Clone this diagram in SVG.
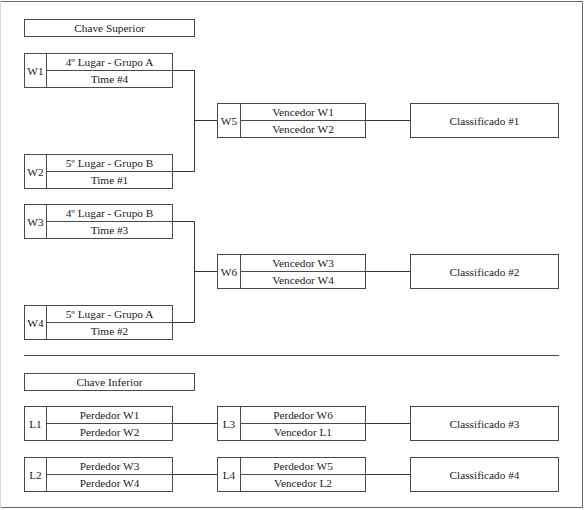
<svg xmlns="http://www.w3.org/2000/svg" width="588" height="510" viewBox="0 0 588 510">
<style>
.b{fill:#fff;stroke:#4a4a4a;stroke-width:1}
.l{fill:none;stroke:#4a4a4a;stroke-width:1}
.c{stroke:#333;stroke-width:1;fill:none}
.t text{font-family:'Liberation Serif','Times New Roman',Tinos,'DejaVu Serif',serif;font-size:11.3px;fill:#222;text-anchor:middle}
</style>
<rect x="0" y="0" width="588" height="510" fill="#fff"/>
<g id="frame">
<line x1="0" y1="1.5" x2="583" y2="1.5" stroke="#6a6a6a"/>
<line x1="582.5" y1="1" x2="582.5" y2="508" stroke="#6a6a6a"/>
<line x1="0" y1="507.5" x2="583" y2="507.5" stroke="#6a6a6a"/>
<line x1="0.5" y1="1" x2="0.5" y2="508" stroke="#d8d8d8"/>
</g>
<g id="connectors">
<path class="c" d="M172.5 70.5H194.5V171.5H172.5M194.5 120.5H217.5M365.5 120.5H410.5"/>
<path class="c" d="M172.5 221.5H194.5V322.5H172.5M194.5 271.5H217.5M365.5 271.5H410.5"/>
<path class="c" d="M172.5 423.5H217.5M365.5 423.5H410.5"/>
<path class="c" d="M172.5 474.5H217.5M365.5 474.5H410.5"/>
<line class="l" x1="24" y1="355.5" x2="559" y2="355.5"/>
</g>
<g class="t" font-family="Liberation Serif, serif" font-size="11.3">
<g id="chave-superior"><rect class="b" x="24.5" y="19.5" width="170" height="17"/><text x="109.5" y="32">Chave Superior</text></g>
<g id="W1"><rect class="b" x="24.5" y="53.5" width="148" height="34"/><path class="l" d="M46.5 53.5V87.5M46.5 70.5H172.5"/><text x="35.5" y="74.5">W1</text><text x="109.5" y="66">4º Lugar - Grupo A</text><text x="109.5" y="83">Time #4</text></g>
<g id="W2"><rect class="b" x="24.5" y="154.5" width="148" height="34"/><path class="l" d="M46.5 154.5V188.5M46.5 171.5H172.5"/><text x="35.5" y="175.5">W2</text><text x="109.5" y="167">5º Lugar - Grupo B</text><text x="109.5" y="184">Time #1</text></g>
<g id="W3"><rect class="b" x="24.5" y="204.5" width="148" height="34"/><path class="l" d="M46.5 204.5V238.5M46.5 221.5H172.5"/><text x="35.5" y="225.5">W3</text><text x="109.5" y="217">4º Lugar - Grupo B</text><text x="109.5" y="234">Time #3</text></g>
<g id="W4"><rect class="b" x="24.5" y="305.5" width="148" height="34"/><path class="l" d="M46.5 305.5V339.5M46.5 322.5H172.5"/><text x="35.5" y="326.5">W4</text><text x="109.5" y="318">5º Lugar - Grupo A</text><text x="109.5" y="335">Time #2</text></g>
<g id="W5"><rect class="b" x="217.5" y="103.5" width="148" height="34"/><path class="l" d="M240.5 103.5V137.5M240.5 120.5H365.5"/><text x="229" y="124.5">W5</text><text x="303" y="116">Vencedor W1</text><text x="303" y="133">Vencedor W2</text></g>
<g id="W6"><rect class="b" x="217.5" y="254.5" width="148" height="34"/><path class="l" d="M240.5 254.5V288.5M240.5 271.5H365.5"/><text x="229" y="275.5">W6</text><text x="303" y="267">Vencedor W3</text><text x="303" y="284">Vencedor W4</text></g>
<g id="classificado-1"><rect class="b" x="410.5" y="103.5" width="148" height="34"/><text x="484.5" y="124.5">Classificado #1</text></g>
<g id="classificado-2"><rect class="b" x="410.5" y="254.5" width="148" height="34"/><text x="484.5" y="275.5">Classificado #2</text></g>
<g id="chave-inferior"><rect class="b" x="24.5" y="373.5" width="170" height="17"/><text x="109.5" y="386">Chave Inferior</text></g>
<g id="L1"><rect class="b" x="24.5" y="406.5" width="148" height="34"/><path class="l" d="M46.5 406.5V440.5M46.5 423.5H172.5"/><text x="35.5" y="427.5">L1</text><text x="109.5" y="419">Perdedor W1</text><text x="109.5" y="436">Perdedor W2</text></g>
<g id="L2"><rect class="b" x="24.5" y="457.5" width="148" height="34"/><path class="l" d="M46.5 457.5V491.5M46.5 474.5H172.5"/><text x="35.5" y="478.5">L2</text><text x="109.5" y="470">Perdedor W3</text><text x="109.5" y="487">Perdedor W4</text></g>
<g id="L3"><rect class="b" x="217.5" y="406.5" width="148" height="34"/><path class="l" d="M240.5 406.5V440.5M240.5 423.5H365.5"/><text x="229" y="427.5">L3</text><text x="303" y="419">Perdedor W6</text><text x="303" y="436">Vencedor L1</text></g>
<g id="L4"><rect class="b" x="217.5" y="457.5" width="148" height="34"/><path class="l" d="M240.5 457.5V491.5M240.5 474.5H365.5"/><text x="229" y="478.5">L4</text><text x="303" y="470">Perdedor W5</text><text x="303" y="487">Vencedor L2</text></g>
<g id="classificado-3"><rect class="b" x="410.5" y="406.5" width="148" height="34"/><text x="484.5" y="427.5">Classificado #3</text></g>
<g id="classificado-4"><rect class="b" x="410.5" y="457.5" width="148" height="34"/><text x="484.5" y="478.5">Classificado #4</text></g>
</g>
</svg>
